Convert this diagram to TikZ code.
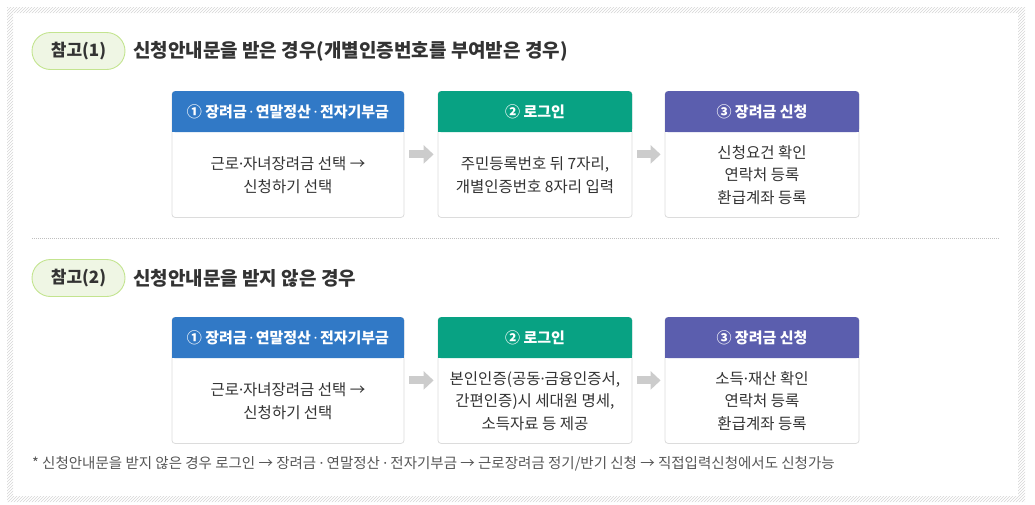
\documentclass[tikz,border=0pt]{standalone}
\usepackage{fontspec}
\setmainfont{Noto Sans CJK KR}
\newfontfamily\latinfont{Noto Sans}
\newcommand{\md}{{\latinfont ·}}
\usetikzlibrary{arrows.meta,calc,patterns}
\definecolor{hblue}{HTML}{3179C6}
\definecolor{hgreen}{HTML}{08A283}
\definecolor{hpurple}{HTML}{5B5EAE}
\definecolor{txt}{HTML}{333333}
\definecolor{note}{HTML}{555555}
\definecolor{pillfill}{HTML}{EFF6E4}
\definecolor{pillline}{HTML}{C3E48F}
\definecolor{boxline}{HTML}{DCDCDC}
\definecolor{arrowgray}{HTML}{CCCCCC}
\tikzset{
  pill/.style={draw=pillline, fill=pillfill, line width=0.9pt, rounded corners=18.5pt,
    minimum width=93pt, minimum height=37pt, inner sep=0pt, text=txt,
    font=\fontsize{17}{19}\selectfont\bfseries},
  title/.style={anchor=west, inner sep=0pt, text=txt, font=\fontsize{19}{21}\selectfont\bfseries},
  bodybox/.style={draw=boxline, fill=white, line width=0.8pt, rounded corners=3pt,
    minimum height=126pt, inner sep=0pt},
  hdr/.style={rounded corners=3pt, minimum height=41pt, inner sep=0pt, text=white,
    font=\fontsize{15}{17}\selectfont\bfseries},
  bodytext/.style={align=center, text=txt, inner sep=0pt,
    font=\fontsize{15.5}{22.5}\selectfont},
  flow/.style={draw=arrowgray, line width=8pt,
    -{Triangle[width=18pt,length=10pt]}, shorten >=0pt},
  footnote/.style={anchor=west, inner sep=0pt, text=note, font=\fontsize{14.5}{16}\selectfont},
}
\newcommand{\flowbox}[7]{% name, cx, top, width, color, header, body
  \node[bodybox, minimum width=#4pt, anchor=north] (#1) at (#2,#3) {};
  \node[hdr, fill=#5, minimum width=#4pt, anchor=north] (#1h) at (#1.north) {#6};
  \fill[#5] ($(#1h.south west)+(0,-4)$) rectangle (#1h.south east);
  \node[bodytext] (#1t) at ($(#1h.south)!0.5!(#1.south)$) {#7};
}
\begin{document}
\begin{tikzpicture}[x=1pt,y=-1pt]
\useasboundingbox (0,0) rectangle (1035,504);
% hatched frame
\fill[pattern=north east lines, pattern color=gray!32, even odd rule]
  (7,7) rectangle (1025,502) (13,13) rectangle (1018,496);
% section 1
\node[pill] (p1) at (78.5,51) {참고(1)};
\node[title] (t1) at (133,51) {신청안내문을 받은 경우(개별인증번호를 부여받은 경우)};
\flowbox{a1}{288}{91}{232}{hblue}{① 장려금\,\md\,연말정산\,\md\,전자기부금}{근로\md 자녀장려금 선택 →\\신청하기 선택}
\flowbox{a2}{535}{91}{194}{hgreen}{② 로그인}{주민등록번호 뒤 7자리,\\개별인증번호 8자리 입력}
\flowbox{a3}{762}{91}{194}{hpurple}{③ 장려금 신청}{신청요건 확인\\연락처 등록\\환급계좌 등록}
\draw[flow] ($(a1.east)+(5,0)$) -- ($(a2.west)+(-4,0)$);
\draw[flow] ($(a2.east)+(5,0)$) -- ($(a3.west)+(-4,0)$);
% separator
\coordinate (s1) at (32,238);
\coordinate (s2) at (1000,238);
\draw[gray!50, line width=0.8pt, dash pattern=on 1pt off 1pt] (s1) -- (s2);
% section 2
\node[pill] (p2) at (78.5,278) {참고(2)};
\node[title] (t2) at (133,278) {신청안내문을 받지 않은 경우};
\flowbox{b1}{288}{317}{232}{hblue}{① 장려금\,\md\,연말정산\,\md\,전자기부금}{근로\md 자녀장려금 선택 →\\신청하기 선택}
\flowbox{b2}{535}{317}{194}{hgreen}{② 로그인}{본인인증(공동\md 금융인증서,\\간편인증)시 세대원 명세,\\소득자료 등 제공}
\flowbox{b3}{762}{317}{194}{hpurple}{③ 장려금 신청}{소득\md 재산 확인\\연락처 등록\\환급계좌 등록}
\draw[flow] ($(b1.east)+(5,0)$) -- ($(b2.west)+(-4,0)$);
\draw[flow] ($(b2.east)+(5,0)$) -- ($(b3.west)+(-4,0)$);
% footnote
\node[footnote] (fn) at (32,464) {* 신청안내문을 받지 않은 경우 로그인 → 장려금 \md{} 연말정산 \md{} 전자기부금 → 근로장려금 정기/반기 신청 → 직접입력신청에서도 신청가능};
\end{tikzpicture}
\end{document}
